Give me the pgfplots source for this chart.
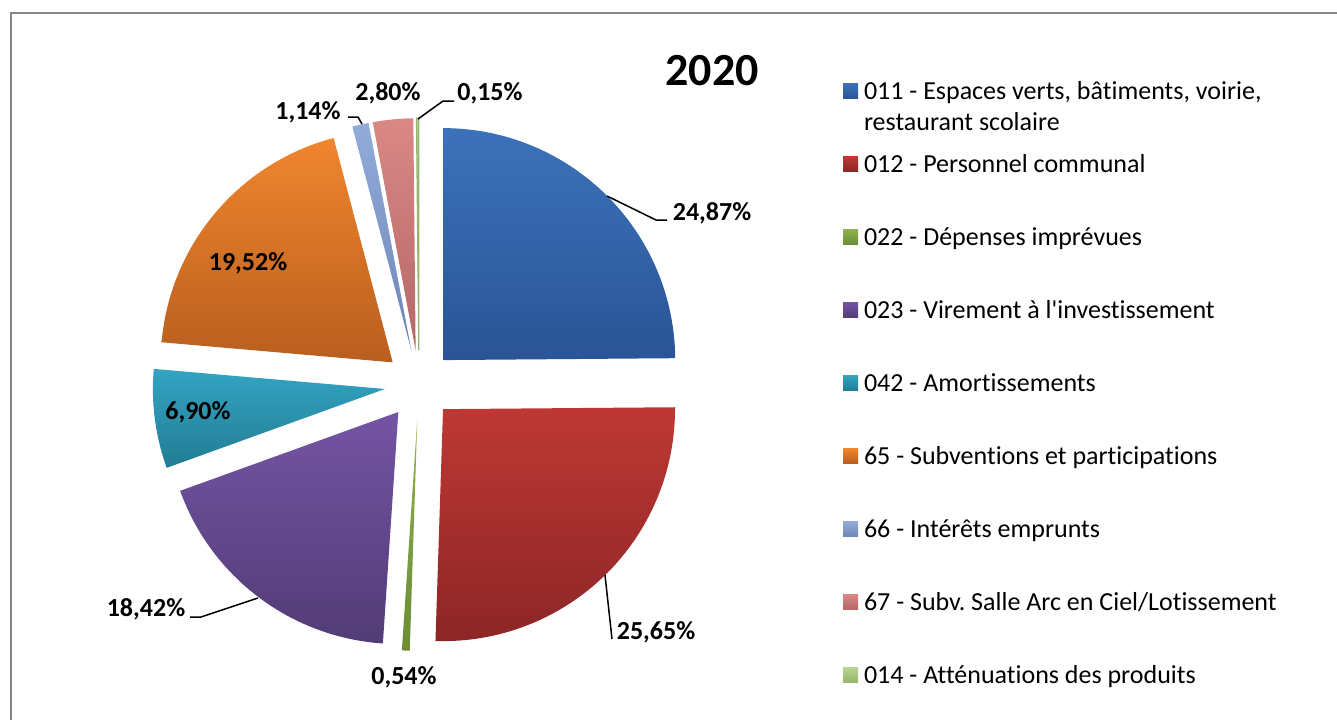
\documentclass[border=0pt]{standalone}
\usepackage{pgfplots}
\pgfplotsset{compat=1.18}
\usepackage{pgfplotstable}
\usepackage{fontspec}
\setmainfont{Carlito}[Ligatures={TeXOff,CommonOff}]
\frenchspacing

% slice colours: lighter at the top, darker at the bottom
\definecolor{c1t}{RGB}{60,114,186}\definecolor{c1b}{RGB}{42,84,150}
\definecolor{c2t}{RGB}{190,56,52}\definecolor{c2b}{RGB}{140,38,38}
\definecolor{c3t}{RGB}{142,178,76}\definecolor{c3b}{RGB}{108,140,54}
\definecolor{c4t}{RGB}{116,84,164}\definecolor{c4b}{RGB}{82,60,118}
\definecolor{c5t}{RGB}{52,164,194}\definecolor{c5b}{RGB}{34,124,148}
\definecolor{c6t}{RGB}{240,134,46}\definecolor{c6b}{RGB}{184,94,30}
\definecolor{c7t}{RGB}{146,172,218}\definecolor{c7b}{RGB}{110,134,182}
\definecolor{c8t}{RGB}{218,136,134}\definecolor{c8b}{RGB}{180,104,102}
\definecolor{c9t}{RGB}{186,212,146}\definecolor{c9b}{RGB}{150,180,110}
\definecolor{frameg}{RGB}{134,134,134}

\pgfplotstableread{
code value
011 24.87
012 25.65
022 0.54
023 18.42
042 6.90
65 19.52
66 1.14
67 2.80
014 0.15
}\piedata

% pie geometry in pixels (y grows downwards)
\def\cx{419}\def\cy{384.5}\def\rr{232}\def\ex{34.4}

\newcommand\slice[4][draw=none]{%
  \edef\doslice{\noexpand\addplot[#1, top color=#3, bottom color=#4,
     domain=\csname pb#2\endcsname:\csname pa#2\endcsname, samples=60]
     ({\csname ox#2\endcsname+\rr*cos(x)}, {\csname oy#2\endcsname-\rr*sin(x)})
     -- (axis cs:\csname ox#2\endcsname,\csname oy#2\endcsname) -- cycle;}%
  \doslice
}

\begin{document}
\begin{tikzpicture}
% start and end angle of every slice, clockwise from 12 o'clock
\def\cum{0}
\pgfplotsforeachungrouped \i in {0,...,8}{%
  \pgfplotstablegetelem{\i}{value}\of\piedata
  \pgfmathsetmacro\angA{90-3.6*\cum}%
  \pgfmathsetmacro\cum{\cum+\pgfplotsretval}%
  \pgfmathsetmacro\angB{90-3.6*\cum}%
  \pgfmathsetmacro\angM{(\angA+\angB)/2}%
  \pgfmathsetmacro\ox{\cx+\ex*cos(\angM)}%
  \pgfmathsetmacro\oy{\cy-\ex*sin(\angM)}%
  \expandafter\xdef\csname pa\i\endcsname{\angA}%
  \expandafter\xdef\csname pb\i\endcsname{\angB}%
  \expandafter\xdef\csname ox\i\endcsname{\ox}%
  \expandafter\xdef\csname oy\i\endcsname{\oy}%
}
\begin{axis}[
  scale only axis, width=668.5pt, height=360pt,
  xmin=0, xmax=1337, ymin=0, ymax=720, y dir=reverse,
  hide axis, clip=false, no markers,
  legend cell align=left,
  legend image code/.code={\path[#1, draw=none] (0pt,-3.75pt) rectangle (7.5pt,3.75pt);},
  legend style={at={(axis cs:843,78.5)}, anchor=north west, draw=none, fill=none,
    inner sep=0pt, outer sep=0pt, row sep=24pt, column sep=3pt,
    font=\fontsize{13pt}{15.5pt}\selectfont,
    nodes={inner sep=0pt, text height=10.5pt, text depth=2pt}},
]
\slice{0}{c1t}{c1b}
\slice{1}{c2t}{c2b}
\slice{2}{c3t}{c3b}
\slice{3}{c4t}{c4b}
\slice{4}{c5t}{c5b}
\slice{5}{c6t}{c6b}
\slice{6}{c7t}{c7b}
\slice{7}{c8t}{c8b}
\slice[draw=c9b, line width=0.6pt]{8}{c9t}{c9b}
\legend{{\parbox[t]{260pt}{011 - Espaces verts, bâtiments, voirie,\\restaurant scolaire}},
  012 - Personnel communal,
  022 - Dépenses imprévues,
  023 - Virement à l'investissement,
  042 - Amortissements,
  65 - Subventions et participations,
  66 - Intérêts emprunts,
  67 - Subv. Salle Arc en Ciel/Lotissement,
  014 - Atténuations des produits}

% frame
\draw[frameg, line width=1pt] (axis cs:11,720) -- (axis cs:11,13) -- (axis cs:1337,13);
% title
\node[font=\bfseries\fontsize{23pt}{27pt}\selectfont] at (axis cs:712,71) {2020};
% data labels and leader lines
\begin{scope}[every node/.style={font=\bfseries\fontsize{13pt}{15pt}\selectfont}]
\node at (axis cs:712,213) {24,87\%};
\node at (axis cs:656,632) {25,65\%};
\node at (axis cs:404,677) {0,54\%};
\node at (axis cs:146,609) {18,42\%};
\node at (axis cs:198,412) {6,90\%};
\node at (axis cs:248,263) {19,52\%};
\node at (axis cs:308,112) {1,14\%};
\node at (axis cs:388,93) {2,80\%};
\node at (axis cs:490,93) {0,15\%};
\end{scope}
\begin{scope}[line width=0.75pt]
\draw (axis cs:607,196) -- (axis cs:656,220) -- (axis cs:667,220);
\draw (axis cs:605,575) -- (axis cs:612,639);
\draw (axis cs:190,617) -- (axis cs:201,617) -- (axis cs:258,598);
\draw (axis cs:348,117) -- (axis cs:358,117) -- (axis cs:362,124);
\draw (axis cs:454,101) -- (axis cs:443,101) -- (axis cs:418,119);
\end{scope}
\end{axis}
\pgfresetboundingbox
\useasboundingbox (current axis.south west) rectangle (current axis.north east);
\end{tikzpicture}
\end{document}
